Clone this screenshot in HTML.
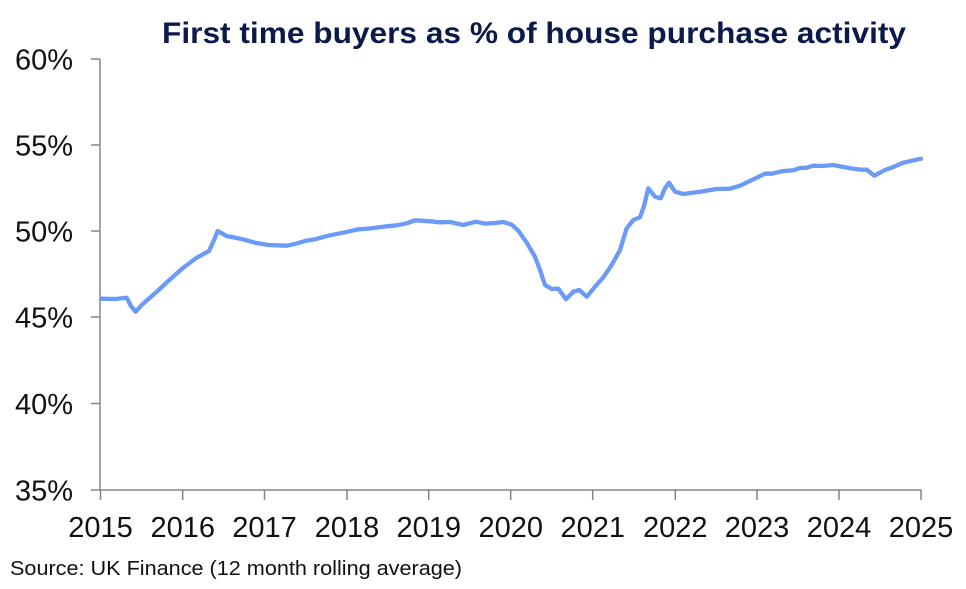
<!DOCTYPE html>
<html>
<head>
<meta charset="utf-8">
<style>
html,body{margin:0;padding:0;background:#fff;}
svg{display:block;}
</style>
</head>
<body>
<svg width="966" height="589" viewBox="0 0 966 589" xmlns="http://www.w3.org/2000/svg">
  <rect width="966" height="589" fill="#fff"/>
  <text x="162" y="43" font-family="Liberation Sans, sans-serif" font-weight="bold" font-size="30" fill="#0b1a4a" textLength="744" lengthAdjust="spacingAndGlyphs">First time buyers as % of house purchase activity</text>

  <!-- axes -->
  <g stroke="#858585" stroke-width="1.5" fill="none">
    <line x1="100" y1="59" x2="100" y2="490"/>
    <line x1="99.5" y1="490" x2="921.5" y2="490"/>
    <line x1="91" y1="59" x2="100" y2="59"/>
    <line x1="91" y1="145" x2="100" y2="145"/>
    <line x1="91" y1="231" x2="100" y2="231"/>
    <line x1="91" y1="317" x2="100" y2="317"/>
    <line x1="91" y1="403.5" x2="100" y2="403.5"/>
    <line x1="91" y1="490" x2="100" y2="490"/>
    <line x1="100.5" y1="490" x2="100.5" y2="500"/>
    <line x1="182.7" y1="490" x2="182.7" y2="500"/>
    <line x1="264.5" y1="490" x2="264.5" y2="500"/>
    <line x1="347" y1="490" x2="347" y2="500"/>
    <line x1="428.7" y1="490" x2="428.7" y2="500"/>
    <line x1="510.7" y1="490" x2="510.7" y2="500"/>
    <line x1="592.7" y1="490" x2="592.7" y2="500"/>
    <line x1="675.3" y1="490" x2="675.3" y2="500"/>
    <line x1="757" y1="490" x2="757" y2="500"/>
    <line x1="839" y1="490" x2="839" y2="500"/>
    <line x1="921" y1="490" x2="921" y2="500"/>
  </g>

  <!-- y labels -->
  <g font-family="Liberation Sans, sans-serif" font-size="29" fill="#111" text-anchor="end">
    <text x="73" y="69.5">60%</text>
    <text x="73" y="155.5">55%</text>
    <text x="73" y="241.5">50%</text>
    <text x="73" y="327.5">45%</text>
    <text x="73" y="414">40%</text>
    <text x="73" y="500.5">35%</text>
  </g>

  <!-- x labels -->
  <g font-family="Liberation Sans, sans-serif" font-size="29" fill="#111" text-anchor="middle">
    <text x="100.5" y="537">2015</text>
    <text x="182.7" y="537">2016</text>
    <text x="264.5" y="537">2017</text>
    <text x="347" y="537">2018</text>
    <text x="428.7" y="537">2019</text>
    <text x="510.7" y="537">2020</text>
    <text x="592.7" y="537">2021</text>
    <text x="675.3" y="537">2022</text>
    <text x="757" y="537">2023</text>
    <text x="839" y="537">2024</text>
    <text x="921" y="537">2025</text>
  </g>

  <text x="10" y="575" font-family="Liberation Sans, sans-serif" font-size="20" fill="#111" textLength="452" lengthAdjust="spacingAndGlyphs">Source: UK Finance (12 month rolling average)</text>

  <!-- series -->
  <polyline fill="none" stroke="#6b9bf7" stroke-width="4.3" stroke-linejoin="round" stroke-linecap="round"
    points="101,298.7 115,299 126.7,297.7 131,306 135.7,311.7 141.7,305 155,293.3 168.3,281 183.3,267.7 196.7,257.7 209,251 213.3,241.7 217.7,231 221.7,233.3 226.7,236 241.7,239 255,242.7 268.3,245 286.7,245.7 295,244 305,241 315,239.3 328.3,235.7 345,232.3 358.3,229.3 370,228.5 383.3,226.7 396.7,225.3 406.7,223.3 415,220.3 430,221.3 440,222.3 450,222 463.3,225 476,221.7 485,223.7 495,223 503.3,222 511.7,224.7 518.3,230.7 526.7,242.7 535,256.7 540,270 545,285 551.7,289 558.3,288.7 561.7,293.3 566,299.3 573.3,291.7 579.3,290 586.7,296.7 595,286.7 603.3,277.3 611.7,265 620,250 626.7,228.3 633.3,220 640,217.3 644,206 648.3,188.3 655,196.7 660.7,198.3 665,188.3 669,182.7 675,191.7 683.3,194 700,191.7 716.7,189 730,188.7 740,185.7 753.3,179.3 765,173.7 771.7,173.7 783.3,171 793.3,170.3 800,168 806.7,167.7 813.3,165.7 821.7,166 833.3,165 843.3,167 853.3,168.7 861.7,169.7 866.7,169.7 874.3,175.7 885,170 893.3,167 903.3,162.7 921,158.7"/>
</svg>
</body>
</html>
